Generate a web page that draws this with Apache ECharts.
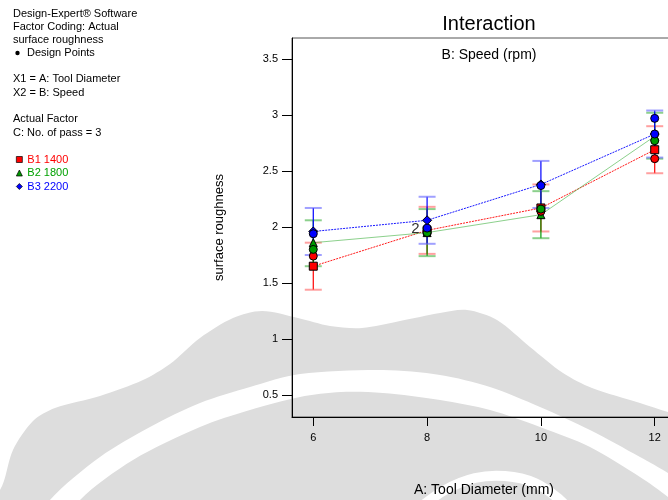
<!DOCTYPE html>
<html>
<head>
<meta charset="utf-8">
<script src="https://cdn.jsdelivr.net/npm/echarts@6/dist/echarts.min.js"></script>
<style>
html, body { margin: 0; padding: 0; background: #fff; }
#chart-container { width: 668px; height: 500px; }
</style>
</head>
<body>
<div id="chart-container"></div>
<script>
// A: Tool Diameter (mm)
var toolDiameter = [6, 8, 10, 12];
var xTicks = [6, 8, 10, 12];
var yTicks = [0.5, 1, 1.5, 2, 2.5, 3, 3.5];
var speedNames = ['B1 1400', 'B2 1800', 'B3 2200'];

// predicted means (surface roughness) per speed level
var meanB1 = [1.65, 1.97, 2.17, 2.69];
var meanB2 = [1.86, 1.95, 2.11, 2.81];
var meanB3 = [1.96, 2.06, 2.38, 2.83];

// LSD bars, low / high
var lowB1 = [1.44, 1.76, 1.96, 2.48];
var highB1 = [1.86, 2.18, 2.38, 2.90];
var lowB2 = [1.65, 1.74, 1.90, 2.61];
var highB2 = [2.06, 2.16, 2.32, 3.02];
var lowB3 = [1.75, 1.85, 2.17, 2.62];
var highB3 = [2.17, 2.27, 2.59, 3.04];

// design points [diameter, roughness]
var pointsB1 = [[6, 1.74], [8, 1.97], [10, 2.14], [12, 2.61]];
var pointsB2 = [[6, 1.80], [8, 1.95], [8, 1.95], [10, 2.16], [12, 2.77]];
var pointsB3 = [[6, 1.94], [8, 1.99], [10, 2.37], [12, 2.97], [12, 2.83]];

var dom = document.getElementById('chart-container');
var myChart = echarts.init(dom, null, { renderer: 'canvas' });

var FONT = 'Liberation Sans, Arial, sans-serif';

var levels = [
  { name: speedNames[0], mean: meanB1, low: lowB1, high: highB1, pts: pointsB1,
    color: '#ff0000', cap: '#ff6060', line: '#ff0000', dash: [2, 1], lineOpacity: 0.9,
    symbol: 'rect', size: 8, text: '#ff0000' },
  { name: speedNames[1], mean: meanB2, low: lowB2, high: highB2, pts: pointsB2,
    color: '#009900', cap: '#40b040', line: '#40b040', dash: 'solid', lineOpacity: 0.6,
    symbol: 'triangle', size: 8, text: '#00a000' },
  { name: speedNames[2], mean: meanB3, low: lowB3, high: highB3, pts: pointsB3,
    color: '#0000ff', cap: '#6060ff', line: '#0000ff', dash: [2, 1], lineOpacity: 0.9,
    symbol: 'diamond', size: 9, text: '#0000ff' }
];

function barRenderer(lv) {
  return function (params, api) {
    var lo = api.coord([api.value(0), api.value(1)]);
    var hi = api.coord([api.value(0), api.value(2)]);
    var hw = 8.5;
    return {
      type: 'group',
      children: [
        { type: 'line', shape: { x1: lo[0], y1: lo[1], x2: hi[0], y2: hi[1] },
          style: { stroke: lv.color, lineWidth: 1.2 } },
        { type: 'line', shape: { x1: lo[0] - hw, y1: lo[1], x2: lo[0] + hw, y2: lo[1] },
          style: { stroke: lv.cap, lineWidth: 2, opacity: 0.6 } },
        { type: 'line', shape: { x1: hi[0] - hw, y1: hi[1], x2: hi[0] + hw, y2: hi[1] },
          style: { stroke: lv.cap, lineWidth: 2, opacity: 0.6 } }
      ]
    };
  };
}

var barSeries = [], lineSeries = [], pointSeries = [];
levels.forEach(function (lv) {
  barSeries.push({
    type: 'custom',
    name: lv.name + ' LSD',
    silent: true,
    renderItem: barRenderer(lv),
    encode: { x: 0, y: [1, 2] },
    data: toolDiameter.map(function (d, i) { return [d, lv.low[i], lv.high[i]]; }),
    z: 2
  });
  lineSeries.push({
    type: 'line',
    name: lv.name,
    symbol: lv.symbol,
    symbolSize: lv.size,
    showAllSymbol: true,
    itemStyle: { color: lv.color, borderColor: '#000', borderWidth: 1 },
    lineStyle: { color: lv.line, width: 1, type: lv.dash, opacity: lv.lineOpacity },
    data: toolDiameter.map(function (d, i) { return [d, lv.mean[i]]; }),
    z: 3
  });
  // count coincident design points, label them with the count
  var seen = {};
  lv.pts.forEach(function (p) {
    var k = p[0] + '_' + p[1];
    seen[k] = (seen[k] || 0) + 1;
  });
  var done = {};
  var pdata = [];
  lv.pts.forEach(function (p) {
    var k = p[0] + '_' + p[1];
    if (done[k]) return;
    done[k] = true;
    var item = { value: p };
    if (seen[k] > 1) {
      item.label = { show: true, formatter: String(seen[k]), position: 'left', distance: 3,
        offset: [0, -4], fontSize: 15, fontFamily: FONT, color: '#333' };
    }
    pdata.push(item);
  });
  pointSeries.push({
    type: 'scatter',
    name: lv.name + ' points',
    symbol: 'circle',
    symbolSize: 8,
    itemStyle: { color: lv.color, borderColor: '#000', borderWidth: 1, opacity: 1 },
    data: pdata,
    z: 4
  });
});

var infoLines = [
  ['Design-Expert\u00ae Software', 14],
  ['Factor Coding: Actual', 27],
  ['surface roughness', 40],
  ['Design Points', 53, 27],
  ['X1 = A: Tool Diameter', 79],
  ['X2 = B: Speed', 93],
  ['Actual Factor', 119],
  ['C: No. of pass = 3', 133]
];

var graphics = [
  // watermark
  {
    type: 'polygon', z: -10, silent: true,
    shape: {
      smooth: 0.3,
      points: [[-30, 560], [-30, 520], [0, 490], [13, 450], [33, 421], [55, 408], [100, 396],
        [143, 380], [170, 364], [200, 338], [233, 318], [262, 311], [298, 318], [330, 326],
        [362, 328], [400, 321], [440, 313], [467, 310], [497, 320], [530, 347], [563, 373],
        [592, 388], [640, 403], [668, 412], [700, 420], [700, 560]]
    },
    style: { fill: '#dddddd' }
  },
  {
    type: 'polygon', z: -9, silent: true,
    shape: {
      smooth: 0.3,
      points: [[35, 530], [50, 500], [100, 457], [150, 427], [200, 403], [250, 387], [300, 374],
        [383, 370], [440, 375], [490, 387], [540, 407], [590, 430], [640, 457], [668, 473],
        [700, 495], [700, 525], [668, 497], [640, 477], [590, 447], [540, 427], [490, 410],
        [440, 400], [383, 393], [341, 392], [300, 397], [250, 410], [200, 427], [133, 460],
        [80, 500], [65, 530]]
    },
    style: { fill: '#ffffff' }
  },
  {
    type: 'polyline', z: -9, silent: true,
    shape: {
      smooth: 0.4,
      points: [[415, 512], [445, 490], [475, 478], [505, 476], [535, 483], [560, 500], [570, 512]]
    },
    style: { stroke: '#ffffff', lineWidth: 10, fill: null }
  },
  { type: 'circle', shape: { cx: 17.5, cy: 53, r: 2.2 }, style: { fill: '#000' } }
];
infoLines.forEach(function (l) {
  graphics.push({
    type: 'text',
    x: l[2] || 13, y: l[1],
    style: { text: l[0], font: '11px ' + FONT, fill: '#000', verticalAlign: 'middle' }
  });
});

var option = {
  backgroundColor: '#fff',
  animation: false,
  textStyle: { fontFamily: FONT },
  title: [
    { text: 'Interaction', left: 484, top: 9, textAlign: 'center',
      textStyle: { fontSize: 20, fontWeight: 'normal', color: '#000', fontFamily: FONT } },
    { text: 'B: Speed (rpm)', left: 484, top: 43, textAlign: 'center',
      textStyle: { fontSize: 14, fontWeight: 'normal', color: '#000', fontFamily: FONT } }
  ],
  legend: {
    orient: 'vertical',
    left: 16,
    top: 154,
    padding: 0,
    itemWidth: 6,
    itemHeight: 6,
    itemGap: 2.5,
    selectedMode: false,
    itemStyle: { borderWidth: 0.7, borderColor: '#000' },
    data: levels.map(function (lv) {
      return { name: lv.name, icon: lv.symbol, textStyle: { color: lv.text, fontSize: 11, fontFamily: FONT } };
    })
  },
  graphic: graphics,
  grid: {
    left: 292, top: 38, width: 384, height: 379,
    outerBoundsMode: 'none',
    containLabel: false,
    show: true, borderColor: '#555', borderWidth: 1, backgroundColor: 'transparent'
  },
  xAxis: {
    type: 'value',
    min: 5.626,
    max: 12.374,
    name: 'A: Tool Diameter (mm)',
    nameLocation: 'middle',
    nameGap: 66,
    nameTextStyle: { fontSize: 14, color: '#000', fontFamily: FONT },
    axisLine: { onZero: false, lineStyle: { color: '#000', width: 1 } },
    axisTick: { customValues: xTicks, length: 9, lineStyle: { color: '#000' } },
    axisLabel: { customValues: xTicks, margin: 15, fontSize: 11, color: '#000', fontFamily: FONT },
    splitLine: { show: false }
  },
  yAxis: {
    type: 'value',
    min: 0.3036,
    max: 3.6875,
    name: 'surface roughness',
    nameLocation: 'middle',
    nameGap: 66,
    nameTextStyle: { fontSize: 13, color: '#000', fontFamily: FONT },
    axisLine: { show: true, onZero: false, lineStyle: { color: '#000', width: 1 } },
    axisTick: { show: true, customValues: yTicks, length: 10, lineStyle: { color: '#000' } },
    axisLabel: { customValues: yTicks, margin: 14, fontSize: 11, color: '#000', fontFamily: FONT },
    splitLine: { show: false }
  },
  series: barSeries.concat(lineSeries, pointSeries)
};

if (option && typeof option === 'object') {
  myChart.setOption(option);
}

window.addEventListener('resize', myChart.resize);
</script>
</body>
</html>
